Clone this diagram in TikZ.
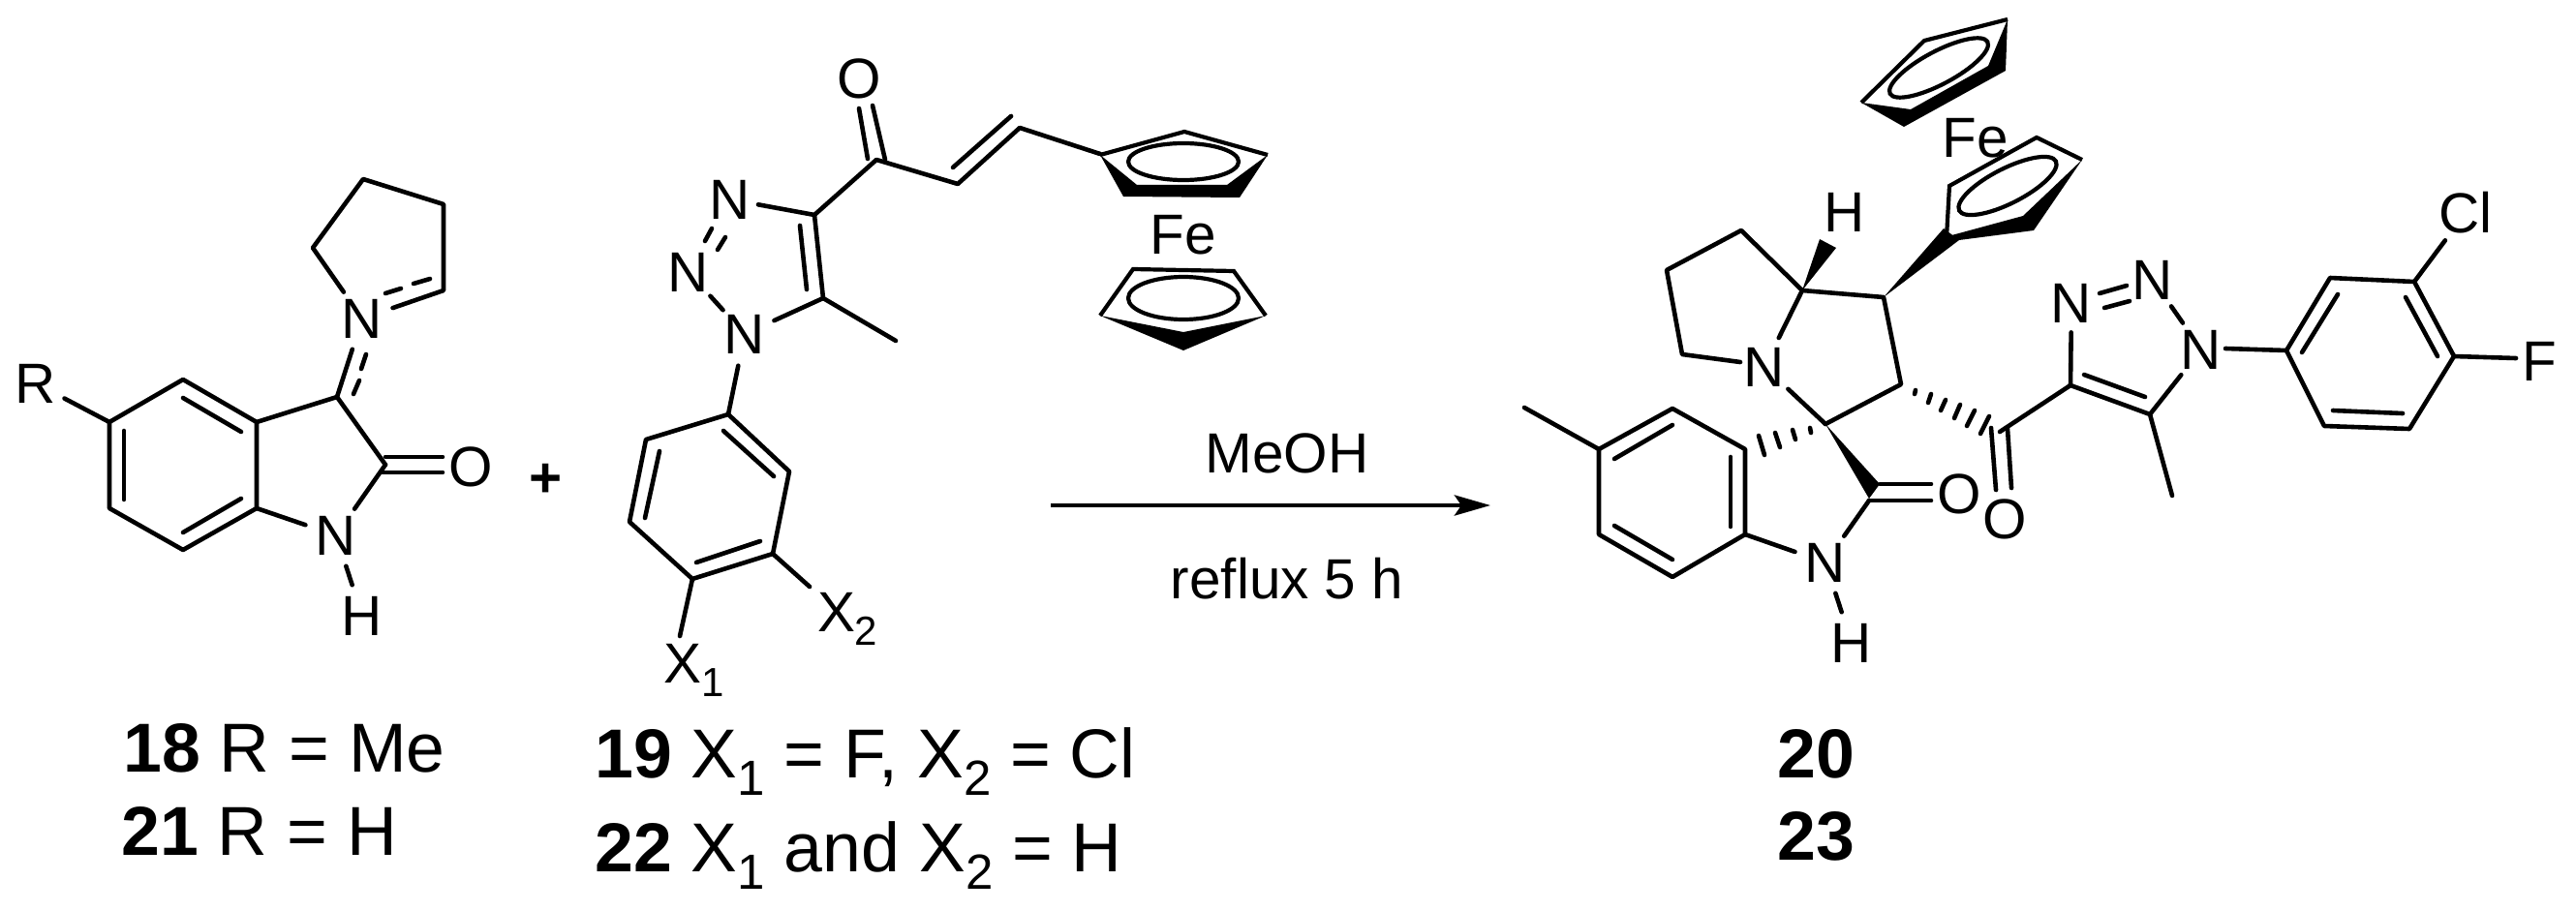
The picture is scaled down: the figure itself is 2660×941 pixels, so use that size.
\documentclass[tikz,border=0pt]{standalone}
\usepackage{fontspec}
\setmainfont{Liberation Sans}
\usetikzlibrary{arrows.meta}
\newcommand{\structfont}{\fontsize{29.2}{30}\selectfont}
\newcommand{\labelfont}{\fontsize{35.8}{38}\selectfont}
\newcommand{\lsub}[1]{\raisebox{-9pt}{\fontsize{25.5}{26}\selectfont #1}}
\newcommand{\ssub}[1]{\raisebox{-7pt}{\fontsize{21}{22}\selectfont #1}}
\tikzset{
  bond/.style={line width=2.3pt,line cap=round,line join=round,black},
  cpring/.style={line width=2.1pt,black},
  atom/.style={circle,inner sep=0pt,minimum size=33pt,font=\structfont,text=black},
  txt/.style={inner sep=0pt,font=\structfont,text=black},
  lab/.style={inner sep=0pt,anchor=base west,font=\labelfont,text=black},
  rxn/.style={line width=2.3pt,-{Stealth[length=18.5pt,width=10.5pt,inset=3.5pt]}}
}
\begin{document}
\begin{tikzpicture}[x=0.5pt,y=-0.5pt]
\useasboundingbox (0,0) rectangle (2660,941);
% ---- compound 18: atoms
\node[atom] (R) at (37,396) {R};
\node[atom] (Nim) at (374,329) {N};
\node[atom] (N1a) at (347,553) {N};
\node[atom] (H1a) at (374,636) {H};
\node[txt] (O1a) at (486,482) {O};
\coordinate (a1) at (113,436); \coordinate (a2) at (189,392);
\coordinate (a3) at (265,436); \coordinate (a4) at (265,525);
\coordinate (a5) at (189,568); \coordinate (a6) at (113,525);
\coordinate (C3a) at (348,410); \coordinate (C2a) at (398,480);
\coordinate (p1) at (323,256); \coordinate (p2) at (375,185);
\coordinate (p3) at (458,211); \coordinate (p4) at (458,300);
\draw[bond] (a1)--(a2)--(a3)--(a4)--(a5)--(a6)--cycle;
\draw[bond] (R)--(a1);
\draw[bond] (a3)--(C3a)--(C2a);
\draw[bond] (C2a)--(N1a); \draw[bond] (a4)--(N1a); \draw[bond] (N1a)--(H1a);
\draw[bond] (C3a)--(Nim);
\draw[bond] (Nim)--(p1)--(p2)--(p3)--(p4)--(Nim);
\draw[bond] (128,445)--(128,516);
\draw[bond] (189,411)--(249,446);
\draw[bond] (189,550)--(249,515);
\draw[bond] (398,303)--(414,298); \draw[bond] (427,293)--(444,288);
\draw[bond] (365,407)--(371,393); \draw[bond] (373,381)--(378,366);
\draw[bond] (398,472)--(457,472); \draw[bond] (393,488)--(457,488);
% plus
\node[txt,font=\structfont\bfseries] (plus) at (564,496) {+};
% ---- compound 19
\node[atom] (Ot) at (887,81) {O};
\node[atom,minimum size=29pt] (Nt) at (754,206) {N};
\node[atom] (Nm) at (711,281) {N};
\node[atom] (Nb) at (769,345) {N};
\node[txt,anchor=base west] (X2) at (843.6,652) {X\ssub{2}};
\node[txt,anchor=base west] (X1) at (685,705) {X\ssub{1}};
\coordinate (X2e) at (836,606); \coordinate (X1e) at (702,657);
\coordinate (cc) at (905,165); \coordinate (c4) at (841,222);
\coordinate (c5) at (850,308); \coordinate (ch1) at (989,190);
\coordinate (ch2) at (1053,132); \coordinate (cpa) at (1136,159);
\coordinate (me1) at (925,352);
\coordinate (b1) at (752,428); \coordinate (b2) at (815,487);
\coordinate (b3) at (798,572); \coordinate (b4) at (715,598);
\coordinate (b5) at (650,539); \coordinate (b6) at (667,454);
\draw[bond] (b1)--(b2)--(b3)--(b4)--(b5)--(b6)--cycle;
\draw[bond] (b3)--(X2e); \draw[bond] (b4)--(X1e);
\draw[bond] (Nb)--(b1); \draw[bond] (Nb)--(c5); \draw[bond] (Nb)--(Nm);
\draw[bond] (c5)--(c4); \draw[bond] (c4)--(Nt); \draw[bond] (c5)--(me1);
\draw[bond] (c4)--(cc)--(ch1)--(ch2)--(cpa);
\draw[bond] (826,233)--(833,299);
\draw[bond] (735,236)--(728,249); \draw[bond] (749,245)--(741,258);
\draw[bond] (887,112)--(896,164); \draw[bond] (901,109)--(914,165);
\draw[bond] (984,173)--(1044,120);
\draw[bond] (747,445)--(799,492);
\draw[bond] (785,559)--(719,581);
\draw[bond] (666,535)--(681,466);
% ferrocene, left
\fill (1136,160)--(1160,203)--(1280,204)--(1309,160)--(1267,191)--(1174,191)--cycle;
\draw[cpring] (1136,160)--(1223,136)--(1309,160);
\draw[cpring] (1222,167) ellipse [x radius=57,y radius=19];
\node[txt] (Fe1) at (1222,243) {Fe};
\fill (1136,326)--(1222,362)--(1307,326)--(1222,343)--cycle;
\draw[cpring,line join=miter] (1136,326)--(1170,278)--(1274,280)--(1307,326);
\draw[cpring] (1222,308) ellipse [x radius=57,y radius=22];
% ---- reaction arrow
\coordinate (arS) at (1085,522); \coordinate (arE) at (1539,522);
\draw[rxn] (arS)--(arE);
\node[txt] (meoh) at (1329,468) {MeOH};
\node[txt] (reflux) at (1329,598) {reflux 5 h};
% ---- product 20
\node[atom] (Np) at (1822,379) {N};
\node[atom] (Hp) at (1905,219) {H};
\node[atom] (Npn) at (1885,581) {N};
\node[atom] (Hpn) at (1912,664) {H};
\node[txt] (Op1) at (2023,510) {O};
\node[txt] (Op2) at (2070,536) {O};
\node[atom,minimum size=30pt] (Ntr1) at (2139,313) {N};
\node[atom] (Ntr2) at (2223,289) {N};
\node[atom] (Ntr3) at (2273,361) {N};
\node[atom] (Cl) at (2546,220) {Cl};
\node[txt] (F) at (2622,373) {F};
\coordinate (Ntr3e) at (2298,360); \coordinate (Fe2) at (2598,370);
\coordinate (pz5) at (1797,374);
\coordinate (q1) at (1798,238); \coordinate (q2) at (1721,279); \coordinate (q3) at (1737,366);
\coordinate (C8) at (1861,300); \coordinate (C1) at (1945,307);
\coordinate (C2) at (1963,397); \coordinate (Sp) at (1885,438);
\coordinate (c1) at (1651,464); \coordinate (c2) at (1727,422);
\coordinate (c3) at (1802,464); \coordinate (c4p) at (1802,552);
\coordinate (c5p) at (1727,596); \coordinate (c6) at (1651,552);
\coordinate (mep) at (1574,421);
\coordinate (Cox) at (1930,517); \coordinate (Cko) at (2065,446);
\coordinate (T4) at (2138,398); \coordinate (T5) at (2220,428);
\coordinate (Tme) at (2243,512);
\coordinate (d1) at (2361,362); \coordinate (d2) at (2406,287);
\coordinate (d3) at (2493,291); \coordinate (d4) at (2534,368);
\coordinate (d5) at (2488,443); \coordinate (d6) at (2400,440);
\draw[bond] (pz5)--(q3)--(q2)--(q1)--(C8);
\draw[bond] (C8)--(Np); \draw[bond] (C8)--(C1)--(C2)--(Sp);
\draw[bond] (Sp)--(Np);
\draw[bond] (c1)--(c2)--(c3)--(c4p)--(c5p)--(c6)--cycle;
\draw[bond] (c1)--(mep);
\draw[bond] (c4p)--(Npn); \draw[bond] (Cox)--(Npn); \draw[bond] (Npn)--(Hpn);
\draw[bond] (1787,472)--(1787,544);
\draw[bond] (1727,439)--(1667,474);
\draw[bond] (1667,543)--(1727,578);
\draw[bond] (1941,500)--(1994,500); \draw[bond] (1930,517)--(1994,517);
% wedges
\fill (1861,300)--(1879,247)--(1896,256)--cycle;
\fill (1885,438)--(1941,500)--(1930,515)--cycle;
\fill (1945,307)--(2007,236)--(2023,248)--cycle;
% hashes
\draw[bond] (1869,442)--(1870,447);
\draw[bond] (1851,444)--(1854,454);
\draw[bond] (1833,447)--(1838,462);
\draw[bond] (1816,450)--(1822,470);
\draw[bond] (1978,403)--(1977,407);
\draw[bond] (1994,407)--(1991,416);
\draw[bond] (2009,413)--(2004,424);
\draw[bond] (2024,418)--(2018,432);
\draw[bond] (2039,424)--(2031,440);
\draw[bond] (2054,430)--(2045,448);
% ketone and triazole
\draw[bond] (2056,442)--(2061,506); \draw[bond] (2073,443)--(2077,504);
\draw[bond] (Cko)--(T4)--(T5)--(Tme);
\draw[bond] (T4)--(Ntr1); \draw[bond] (T5)--(Ntr3); \draw[bond] (Ntr2)--(Ntr3);
\draw[bond] (2152,387)--(2215,410);
\draw[bond] (2168,303)--(2196,295); \draw[bond] (2173,318)--(2199,311);
% aryl
\draw[bond] (d1)--(d2)--(d3)--(d4)--(d5)--(d6)--cycle;
\draw[bond] (Ntr3e)--(d1); \draw[bond] (d3)--(Cl); \draw[bond] (d4)--(Fe2);
\draw[bond] (2414,304)--(2377,364);
\draw[bond] (2484,307)--(2517,368);
\draw[bond] (2481,427)--(2409,424);
% ferrocene, right
\fill (1922,106)--(1966,131)--(2071,73)--(2073,20)--(2053,68)--(1973,113)--cycle;
\draw[cpring,line join=miter] (1922,106)--(1987,42)--(2073,20);
\draw[cpring,rotate around={28:(2002,70)}] (2002,70) ellipse [x radius=57,y radius=17];
\node[txt] (Fe3) at (2040,143) {Fe};
\fill (2150,165)--(2100,238)--(2023,248)--(2008,245)--(2089,223)--cycle;
\draw[cpring,line join=miter] (2010,245)--(2013,192)--(2103,142)--(2150,165);
\draw[cpring,rotate around={27:(2073,192)}] (2073,192) ellipse [x radius=56,y radius=18];
% ---- labels
\node[lab] (l18) at (127,797) {\textbf{18} R = Me};
\node[lab] (l21) at (125,883) {\textbf{21} R = H};
\node[lab] (l19) at (614,803) {\textbf{19} X\lsub{1} = F, X\lsub{2} = Cl};
\node[lab] (l22) at (614,900) {\textbf{22} X\lsub{1} and X\lsub{2} = H};
\node[lab,anchor=base] (l20) at (1875,803) {\textbf{20}};
\node[lab,anchor=base] (l23) at (1875,888) {\textbf{23}};
\end{tikzpicture}
\end{document}
